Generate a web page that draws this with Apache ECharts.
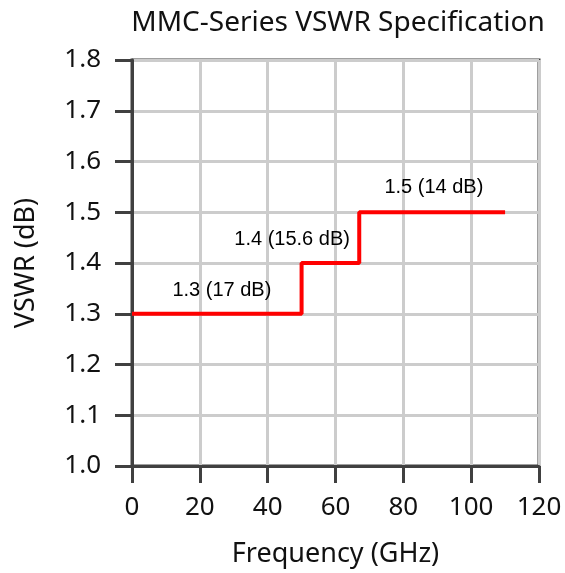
<!DOCTYPE html>
<html><head><meta charset="utf-8">
<script src="https://cdn.jsdelivr.net/npm/echarts@6/dist/echarts.min.js"></script>
<style>html,body{margin:0;padding:0;background:#fff}#c{width:565px;height:573px}</style>
</head><body><div id="c"></div>
<script>
const freqBreaks = [0, 50, 67, 110];
const vswrValues = [1.3, 1.4, 1.5, 1.5];
const labelX = [26.5, 47.2, 89];
const labelY = [1.346, 1.447, 1.548];
const labelText = ['1.3 (17 dB)', '1.4 (15.6 dB)', '1.5 (14 dB)'];
const xTicks = [0, 20, 40, 60, 80, 100, 120];
const yTicks = ['1.0','1.1','1.2','1.3','1.4','1.5','1.6','1.7','1.8'];

const chart = echarts.init(document.getElementById('c'));
const axisColor = '#404040';
const txt = '#111111';
chart.setOption({
  animation: false,
  title: {
    text: 'MMC-Series VSWR Specification', left: 333, top: 4, textAlign: 'center',
    textStyle: {fontFamily: 'Noto Sans', fontSize: 28, fontWeight: 'normal', color: txt}
  },
  grid: {left: 132, right: 26, top: 60, bottom: 107, show: true, borderColor: axisColor, borderWidth: 3},
  xAxis: {
    type: 'value', min: 0, max: 120, interval: 20,
    name: 'Frequency (GHz)', nameLocation: 'middle', nameGap: 75,
    nameTextStyle: {fontFamily: 'Noto Sans', fontSize: 27, color: txt},
    axisLine: {show: true, lineStyle: {color: axisColor, width: 3}},
    axisTick: {show: true, length: 17, lineStyle: {color: axisColor, width: 3}},
    axisLabel: {fontFamily: 'Noto Sans', fontSize: 26, color: txt, margin: 29,
      formatter: v => xTicks.includes(v) ? String(v) : ''},
    splitLine: {show: true, lineStyle: {color: '#cccccc', width: 3}}
  },
  yAxis: {
    type: 'value', min: 1.0, max: 1.8, interval: 0.1,
    name: 'VSWR (dB)', nameLocation: 'middle', nameGap: 92,
    nameTextStyle: {fontFamily: 'Noto Sans', fontSize: 27, color: txt},
    axisLine: {show: true, lineStyle: {color: axisColor, width: 3}},
    axisTick: {show: true, length: 17, lineStyle: {color: axisColor, width: 3}},
    axisLabel: {fontFamily: 'Noto Sans', fontSize: 26, color: txt, margin: 31,
      formatter: v => yTicks[Math.round((v - 1.0) * 10)]},
    splitLine: {show: true, lineStyle: {color: '#cccccc', width: 3}}
  },
  series: [
    {
      type: 'line', step: 'end', symbol: 'none',
      lineStyle: {color: '#ff0000', width: 4},
      data: freqBreaks.map((f, i) => [f, vswrValues[i]])
    },
    {
      type: 'scatter', symbolSize: 0, silent: true,
      itemStyle: {opacity: 1},
      data: labelX.map((x, i) => ({value: [x, labelY[i]], name: labelText[i]})),
      label: {show: true, position: 'inside', formatter: p => p.name,
        fontFamily: 'Liberation Sans', fontSize: 20, color: '#000'}
    }
  ]
});
</script></body></html>
